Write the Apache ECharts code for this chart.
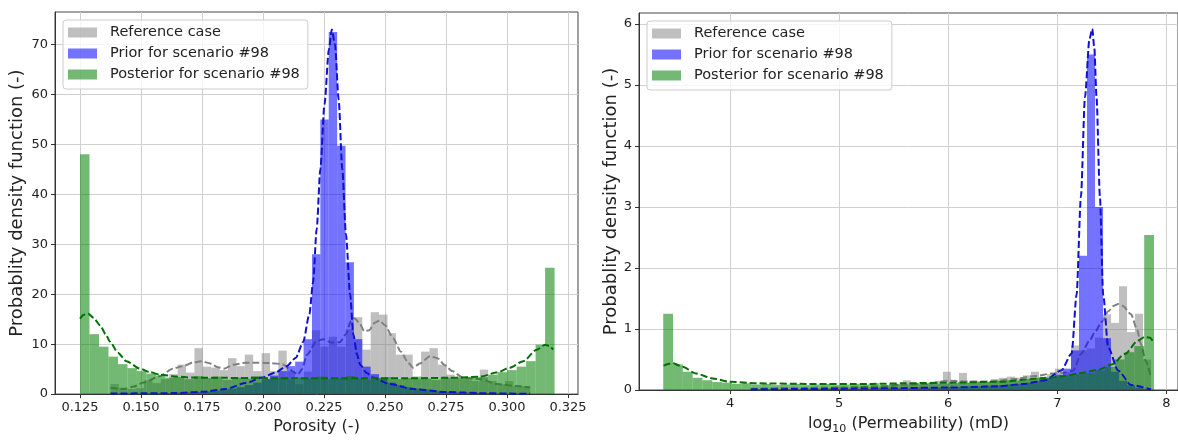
<!DOCTYPE html>
<html>
<head>
<meta charset="utf-8">
<script src="https://cdn.jsdelivr.net/npm/echarts@6/dist/echarts.min.js"></script>
<style>
  html, body { margin: 0; background: #fff; }
  #chart { width: 1178px; height: 440px; }
</style>
</head>
<body>
<div id="chart"></div>
<script>
// ---------- porosity panel ----------
const poroTicks = [0.125, 0.15, 0.175, 0.2, 0.225, 0.25, 0.275, 0.3, 0.325]
const poroPdfTicks = [0, 10, 20, 30, 40, 50, 60, 70]

// reference + prior share bins: 50 bins from 0.1375, width 0.00344
const poroRefStart = 0.1375, poroRefWidth = 0.00344
const poroRefHist = [2.0, 1.3, 1.0, 1.2, 2.8, 2.2, 3.0, 4.0, 5.9, 4.3,
  9.2, 5.5, 5.3, 4.8, 7.2, 5.6, 7.9, 4.6, 8.2, 4.6,
  8.7, 4.6, 2.0, 4.5, 12.8, 9.5, 11.5, 9.5, 13.0, 15.4,
  8.9, 16.4, 15.9, 12.2, 7.9, 7.9, 3.0, 8.5, 9.2, 5.9,
  3.9, 3.3, 3.0, 2.6, 4.9, 2.6, 2.0, 2.6, 1.6, 1.6]
const poroPriorHist = [0.05, 0.08, 0.1, 0.12, 0.15, 0.18, 0.2, 0.25, 0.3, 0.35,
  0.45, 0.55, 0.7, 0.9, 1.1, 1.4, 1.8, 2.3, 3.0, 3.7,
  4.6, 5.6, 6.5, 11.0, 28.0, 55.0, 72.5, 49.7, 26.4, 11.0,
  5.5, 4.0, 3.0, 2.3, 1.8, 1.4, 1.1, 0.9, 0.7, 0.55,
  0.45, 0.35, 0.3, 0.25, 0.2, 0.15, 0.12, 0.1, 0.08, 0.05]
// posterior: 50 bins from 0.125, width 0.00389
const poroPostStart = 0.125, poroPostWidth = 0.00389
const poroPostHist = [48.0, 12.0, 9.5, 7.5, 6.0, 5.2, 4.6, 4.1, 3.7, 3.3,
  3.4, 3.0, 3.6, 3.2, 3.5, 2.9, 3.3, 3.1, 3.6, 3.0,
  3.2, 3.4, 2.9, 3.3, 3.1, 3.5, 3.0, 3.2, 3.6, 3.1,
  2.9, 3.3, 3.4, 3.0, 3.2, 3.5, 3.1, 2.9, 3.3, 3.4,
  3.2, 3.3, 3.4, 3.9, 4.4, 4.8, 5.5, 6.6, 9.9, 25.3]

const poroRefKde = [[0.1375, 1.2], [0.143, 1.0], [0.147, 1.5], [0.151, 2.3], [0.1578, 3.6], [0.163, 5.1],
  [0.167, 5.6], [0.1715, 6.3], [0.1746, 6.6], [0.178, 6.2], [0.1815, 5.4], [0.184, 5.1], [0.188, 5.9],
  [0.193, 6.3], [0.198, 6.3], [0.2035, 6.2], [0.208, 6.0], [0.2105, 5.2], [0.2125, 4.4], [0.2143, 3.9],
  [0.216, 5.0], [0.218, 7.9], [0.222, 10.6], [0.2247, 11.0], [0.2282, 10.3], [0.2315, 10.4], [0.234, 12.0],
  [0.236, 14.6], [0.2375, 15.2], [0.2395, 14.2], [0.2415, 12.6], [0.2435, 12.8], [0.2458, 14.3], [0.2478, 14.7],
  [0.25, 13.8], [0.2533, 11.2], [0.2565, 8.5], [0.2595, 6.3], [0.2615, 5.3], [0.2645, 6.2], [0.2684, 7.6],
  [0.2715, 7.2], [0.2745, 5.8], [0.2775, 4.6], [0.282, 3.3], [0.289, 3.0], [0.296, 2.0], [0.304, 1.6], [0.3095, 1.3]]
const poroPriorKde = [[0.1375, 0.1], [0.15, 0.15], [0.164, 0.2], [0.175, 0.45], [0.1844, 1.0], [0.193, 2.2],
  [0.1995, 3.3], [0.205, 4.3], [0.2097, 5.6], [0.2135, 7.3], [0.2165, 10.5], [0.219, 16.0], [0.2205, 22.3],
  [0.222, 33.0], [0.2235, 45.0], [0.2252, 58.0], [0.227, 69.0], [0.2282, 73.0], [0.2295, 70.0], [0.231, 59.0],
  [0.2325, 45.0], [0.234, 32.0], [0.2357, 20.0], [0.237, 12.0], [0.2385, 8.0], [0.2398, 5.9], [0.2425, 4.2],
  [0.2451, 3.3], [0.252, 2.0], [0.2615, 1.0], [0.2754, 0.4], [0.289, 0.2], [0.3, 0.1], [0.3095, 0.05]]
const poroPostKde = [[0.125, 15.1], [0.1265, 15.9], [0.1284, 16.1], [0.1305, 15.3], [0.1332, 13.8], [0.1355, 12.0],
  [0.1373, 10.5], [0.1405, 8.3], [0.144, 6.6], [0.1496, 5.1], [0.1535, 4.4], [0.1578, 3.9], [0.1645, 3.5],
  [0.171, 3.3], [0.185, 3.25], [0.2, 3.2], [0.22, 3.15], [0.24, 3.15], [0.26, 3.15], [0.2794, 3.3], [0.289, 3.5],
  [0.2958, 4.3], [0.3012, 5.3], [0.3067, 6.6], [0.3122, 8.9], [0.3156, 9.9], [0.3175, 9.6], [0.3189, 8.9]]

// ---------- permeability panel ----------
const permTicks = [4, 5, 6, 7, 8]
const permPdfTicks = [0, 1, 2, 3, 4, 5, 6]

const permRefStart = 4.19, permRefWidth = 0.0734
const permRefHist = [0.01, 0.0, 0.02, 0.01, 0.02, 0.03, 0.02, 0.04, 0.03, 0.03,
  0.05, 0.04, 0.04, 0.06, 0.05, 0.05, 0.06, 0.07, 0.10, 0.16,
  0.12, 0.09, 0.11, 0.15, 0.30, 0.12, 0.28, 0.12, 0.13, 0.14,
  0.18, 0.20, 0.22, 0.20, 0.24, 0.30, 0.20, 0.26, 0.35, 0.30,
  0.73, 0.65, 0.68, 0.86, 1.24, 1.10, 1.70, 0.95, 1.25, 0.50]
const permPriorHist = [0.01, 0.01, 0.01, 0.01, 0.01, 0.01, 0.01, 0.01, 0.01, 0.02,
  0.02, 0.02, 0.02, 0.02, 0.02, 0.03, 0.03, 0.03, 0.03, 0.03,
  0.04, 0.04, 0.04, 0.04, 0.05, 0.05, 0.05, 0.06, 0.06, 0.07,
  0.07, 0.08, 0.09, 0.10, 0.12, 0.14, 0.17, 0.20, 0.25, 0.35,
  0.65, 2.20, 5.50, 3.00, 0.85, 0.30, 0.15, 0.08, 0.04, 0.02]
const permPostStart = 3.387, permPostWidth = 0.09
const permPostHist = [1.25, 0.42, 0.30, 0.20, 0.16, 0.13, 0.12, 0.10, 0.11, 0.09,
  0.10, 0.08, 0.09, 0.10, 0.08, 0.09, 0.10, 0.08, 0.09, 0.10,
  0.09, 0.11, 0.08, 0.10, 0.09, 0.11, 0.10, 0.12, 0.10, 0.11,
  0.13, 0.12, 0.14, 0.13, 0.15, 0.16, 0.15, 0.18, 0.20, 0.19,
  0.22, 0.24, 0.26, 0.28, 0.32, 0.38, 0.50, 0.62, 0.72, 2.54]

const permRefKde = [[4.19, 0.02], [4.6, 0.03], [5.0, 0.04], [5.4, 0.06], [5.6, 0.09], [5.8, 0.1], [6.0, 0.15],
  [6.2, 0.14], [6.4, 0.14], [6.6, 0.18], [6.8, 0.23], [6.95, 0.27], [7.05, 0.28], [7.147, 0.32], [7.22, 0.6],
  [7.3, 0.82], [7.345, 0.95], [7.41, 1.12], [7.467, 1.29], [7.52, 1.38], [7.558, 1.41], [7.6, 1.38],
  [7.677, 1.24], [7.73, 1.0], [7.768, 0.75], [7.81, 0.48], [7.86, 0.2]]
const permPriorKde = [[4.19, 0.01], [4.6, 0.015], [5.0, 0.02], [5.5, 0.03], [6.0, 0.04], [6.46, 0.06], [6.7, 0.1],
  [6.888, 0.16], [7.037, 0.32], [7.132, 0.6], [7.177, 1.56], [7.217, 3.17], [7.254, 4.8], [7.295, 5.75],
  [7.321, 5.92], [7.34, 5.6], [7.36, 4.8], [7.391, 3.17], [7.421, 1.56], [7.467, 0.7], [7.558, 0.32],
  [7.677, 0.08], [7.86, 0.01]]
const permPostKde = [[3.39, 0.40], [3.475, 0.44], [3.564, 0.38], [3.689, 0.27], [3.838, 0.19], [3.994, 0.135],
  [4.238, 0.11], [4.695, 0.1], [5.3, 0.1], [5.61, 0.11], [6.0, 0.12], [6.46, 0.135], [6.92, 0.2], [7.07, 0.23],
  [7.22, 0.28], [7.376, 0.33], [7.5, 0.42], [7.62, 0.59], [7.74, 0.81], [7.8, 0.87], [7.845, 0.86], [7.887, 0.78]]

const names = ['Reference case', 'Prior for scenario #98', 'Posterior for scenario #98']
const FONT = 'DejaVu Sans'
const TEXT = '#222'

function bins(start, width, heights) {
  return heights.map((h, i) => [start + i * width, start + (i + 1) * width, h])
}

function renderBar(params, api) {
  const p0 = api.coord([api.value(0), 0])
  const p1 = api.coord([api.value(1), api.value(2)])
  return {
    type: 'rect',
    shape: { x: p0[0], y: p1[1], width: p1[0] - p0[0], height: p0[1] - p1[1] },
    style: { fill: api.visual('color') },
  }
}

function hist(name, idx, data, color, z) {
  return {
    type: 'custom', name, xAxisIndex: idx, yAxisIndex: idx, data, z,
    renderItem: renderBar, encode: { x: [0, 1], y: 2 },
    itemStyle: { color }, clip: true, silent: true,
  }
}

function kde(idx, data, color, z) {
  return {
    type: 'line', xAxisIndex: idx, yAxisIndex: idx, data, z,
    symbol: 'none', smooth: 0.25, smoothMonotone: 'x', silent: true,
    lineStyle: { color, width: 2, type: [7, 3] },
  }
}

function xAxis(idx, min, max, ticks, name, fmt) {
  return {
    type: 'value', gridIndex: idx, min, max,
    name, nameLocation: 'middle', nameGap: 22,
    nameTextStyle: { color: TEXT, fontSize: 16, fontFamily: FONT, rich: {
      a: { fontSize: 16, fontFamily: FONT, color: TEXT, lineHeight: 20, verticalAlign: 'bottom' },
      sub: { fontSize: 11, fontFamily: FONT, color: TEXT, lineHeight: 20, verticalAlign: 'bottom', padding: [0, 0, -3, 0] },
    } },
    axisLine: { show: true, onZero: false, lineStyle: { color: '#333' } },
    axisTick: { show: true, inside: false, length: 4, customValues: ticks, lineStyle: { color: '#333' } },
    axisLabel: { customValues: ticks, formatter: fmt, color: TEXT, fontSize: 13, fontFamily: FONT, margin: 7 },
    splitLine: { show: true, lineStyle: { color: '#d0d0d0', width: 1 } },
  }
}

function yAxis(idx, max, ticks, gap) {
  return {
    type: 'value', gridIndex: idx, min: 0, max,
    name: 'Probablity density function (-)', nameLocation: 'middle', nameGap: gap,
    nameTextStyle: { color: TEXT, fontSize: 18, fontFamily: FONT },
    axisLine: { show: true, lineStyle: { color: '#333' } },
    axisTick: { show: true, inside: false, length: 4, customValues: ticks, lineStyle: { color: '#333' } },
    axisLabel: { customValues: ticks, color: TEXT, fontSize: 13, fontFamily: FONT, margin: 7 },
    splitLine: { show: true, lineStyle: { color: '#d0d0d0', width: 1 } },
  }
}

function legend(left, top) {
  return {
    left, top, orient: 'vertical', icon: 'rect',
    itemWidth: 29, itemHeight: 10, itemGap: 4,
    padding: [4, 8, 6, 5],
    backgroundColor: 'rgba(255,255,255,0.8)', borderColor: '#cccccc', borderWidth: 1, borderRadius: 3,
    textStyle: { color: TEXT, fontSize: 14.5, fontFamily: FONT, lineHeight: 17, padding: [0, 0, 0, 8] },
    data: names, selectedMode: false,
  }
}

const GRAY = 'rgba(128,128,128,0.5)'
const BLUE = 'rgba(0,0,255,0.55)'
const GREEN = 'rgba(0,128,0,0.55)'

const option = {
  animation: false,
  backgroundColor: '#fff',
  grid: [
    { left: 55, top: 12, width: 523, height: 388, show: true, borderColor: '#444', borderWidth: 1 },
    { left: 639, top: 13, width: 541, height: 384, show: true, borderColor: '#444', borderWidth: 1 },
  ],
  xAxis: [
    xAxis(0, 0.11475, 0.3291, poroTicks, 'Porosity (-)', v => v.toFixed(3)),
    xAxis(1, 3.165, 8.107, permTicks, '{a|log}{sub|10}{a| (Permeability) (mD)}', v => String(v)),
  ],
  yAxis: [
    yAxis(0, 76.5, poroPdfTicks, 29),
    yAxis(1, 6.18, permPdfTicks, 17),
  ],
  legend: [legend(63, 20), legend(647, 21)],
  series: [
    hist(names[0], 0, bins(poroRefStart, poroRefWidth, poroRefHist), GRAY, 1),
    kde(0, poroRefKde, '#808080', 2),
    hist(names[1], 0, bins(poroRefStart, poroRefWidth, poroPriorHist), BLUE, 3),
    hist(names[2], 0, bins(poroPostStart, poroPostWidth, poroPostHist), GREEN, 4),
    kde(0, poroPriorKde, '#1010d0', 5),
    kde(0, poroPostKde, '#007000', 6),

    hist(names[0], 1, bins(permRefStart, permRefWidth, permRefHist), GRAY, 1),
    kde(1, permRefKde, '#808080', 2),
    hist(names[1], 1, bins(permRefStart, permRefWidth, permPriorHist), BLUE, 3),
    hist(names[2], 1, bins(permPostStart, permPostWidth, permPostHist), GREEN, 4),
    kde(1, permPriorKde, '#1010d0', 5),
    kde(1, permPostKde, '#007000', 6),
  ],
}

const chart = echarts.init(document.getElementById('chart'))
chart.setOption(option)
</script>
</body>
</html>
